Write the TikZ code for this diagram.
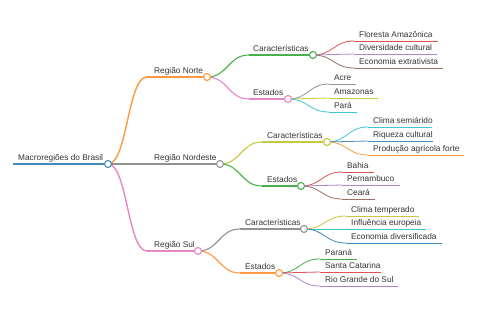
\documentclass[tikz,border=0pt]{standalone}
\usepackage{fontspec}
\newfontfamily\mmfont{Liberation Sans}
\usetikzlibrary{calc}
\definecolor{bBlue}{HTML}{1F77B4}
\definecolor{bOrange}{HTML}{FF7F0E}
\definecolor{bGreen}{HTML}{2CA02C}
\definecolor{bRed}{HTML}{D62728}
\definecolor{bPurple}{HTML}{9467BD}
\definecolor{bBrown}{HTML}{8C564B}
\definecolor{bPink}{HTML}{E377C2}
\definecolor{bGray}{HTML}{7F7F7F}
\definecolor{bOlive}{HTML}{BCBD22}
\definecolor{bCyan}{HTML}{17BECF}
\colorlet{cBlue}{bBlue!85!white}
\colorlet{cOrange}{bOrange!80!white}
\colorlet{cGreen}{bGreen!85!white}
\colorlet{cRed}{bRed!80!white}
\colorlet{cPurple}{bPurple!80!white}
\colorlet{cBrown}{bBrown!85!white}
\colorlet{cPink}{bPink!90!white}
\colorlet{cGray}{bGray!85!white}
\colorlet{cOlive}{bOlive!85!white}
\colorlet{cCyan}{bCyan!85!white}
\definecolor{txt}{HTML}{333333}
\newcommand\mmlink[3]{\draw[#1] let \p1=(#2), \p2=(#3) in (\p1) .. controls ({0.5*\x1+0.5*\x2},\y1) and ({0.5*\x1+0.5*\x2},\y2) .. (\p2);}
\tikzset{
  lbl/.style={anchor=base west, inner sep=0pt, font={\mmfont\fontsize{8.3}{10}\selectfont}, text=txt},
  dot/.style={circle, draw=#1, fill=white, minimum size=7pt, inner sep=0pt, line width=1.1pt},
  w0/.style={line width=1.8pt},
  w1/.style={line width=1.4pt},
  w2/.style={line width=1.1pt},
  w3/.style={line width=0.8pt},
}
\begin{document}
\begin{tikzpicture}[x=1pt,y=-1pt]
\useasboundingbox (0,0) rectangle (480,320);
% coordinates: L = line start, C = circle
\coordinate (rootL) at (13,164);  \coordinate (root) at (108,164);
\coordinate (noL) at (147,77);    \coordinate (no) at (207,77);
\coordinate (neL) at (147,164);   \coordinate (ne) at (220,164);
\coordinate (suL) at (147,251);   \coordinate (su) at (198,251);
\coordinate (nocL) at (249,55);   \coordinate (noc) at (313,55);
\coordinate (noeL) at (249,99);   \coordinate (noe) at (288,99);
\coordinate (necL) at (262,142);  \coordinate (nec) at (327,142);
\coordinate (neeL) at (262,186);  \coordinate (nee) at (301,186);
\coordinate (sucL) at (240,229);  \coordinate (suc) at (304,229);
\coordinate (sueL) at (240,273);  \coordinate (sue) at (279,273);
% leaves
\coordinate (a1L) at (354,41);  \coordinate (a1R) at (438,41);
\coordinate (a2L) at (354,54);  \coordinate (a2R) at (437,54);
\coordinate (a3L) at (354,68);  \coordinate (a3R) at (443,68);
\coordinate (b1L) at (329,84);  \coordinate (b1R) at (356,84);
\coordinate (b2L) at (329,98);  \coordinate (b2R) at (378,98);
\coordinate (b3L) at (329,112); \coordinate (b3R) at (357,112);
\coordinate (c1L) at (368,127); \coordinate (c1R) at (432,127);
\coordinate (c2L) at (368,141); \coordinate (c2R) at (433,141);
\coordinate (c3L) at (368,155); \coordinate (c3R) at (464,155);
\coordinate (d1L) at (342,172); \coordinate (d1R) at (374,172);
\coordinate (d2L) at (342,185); \coordinate (d2R) at (400,185);
\coordinate (d3L) at (342,199); \coordinate (d3R) at (375,199);
\coordinate (e1L) at (346,216); \coordinate (e1R) at (419,216);
\coordinate (e2L) at (346,229); \coordinate (e2R) at (426,229);
\coordinate (e3L) at (346,243); \coordinate (e3R) at (442,243);
\coordinate (f1L) at (320,259); \coordinate (f1R) at (357,259);
\coordinate (f2L) at (320,272); \coordinate (f2R) at (381,272);
\coordinate (f3L) at (320,286); \coordinate (f3R) at (398,286);
% underlines
\draw[cBlue,w0] (rootL) -- (root);
\draw[cOrange,w1] (noL) -- (no);
\draw[cGray,w1] (neL) -- (ne);
\draw[cPink,w1] (suL) -- (su);
\draw[cGreen,w2] (nocL) -- (noc);
\draw[cPink,w2] (noeL) -- (noe);
\draw[cOlive,w2] (necL) -- (nec);
\draw[cGreen,w2] (neeL) -- (nee);
\draw[cGray,w2] (sucL) -- (suc);
\draw[cOrange,w2] (sueL) -- (sue);
\draw[cRed,w3] (a1L) -- (a1R); \draw[cPurple,w3] (a2L) -- (a2R); \draw[cBrown,w3] (a3L) -- (a3R);
\draw[cGray,w3] (b1L) -- (b1R); \draw[cOlive,w3] (b2L) -- (b2R); \draw[cCyan,w3] (b3L) -- (b3R);
\draw[cCyan,w3] (c1L) -- (c1R); \draw[cBlue,w3] (c2L) -- (c2R); \draw[cOrange,w3] (c3L) -- (c3R);
\draw[cRed,w3] (d1L) -- (d1R); \draw[cPurple,w3] (d2L) -- (d2R); \draw[cBrown,w3] (d3L) -- (d3R);
\draw[cOlive,w3] (e1L) -- (e1R); \draw[cCyan,w3] (e2L) -- (e2R); \draw[cBlue,w3] (e3L) -- (e3R);
\draw[cGreen,w3] (f1L) -- (f1R); \draw[cRed,w3] (f2L) -- (f2R); \draw[cPurple,w3] (f3L) -- (f3R);
% links
\mmlink{cOrange,w1}{root}{noL}
\mmlink{cGray,w1}{root}{neL}
\mmlink{cPink,w1}{root}{suL}
\mmlink{cGreen,w2}{no}{nocL}
\mmlink{cPink,w2}{no}{noeL}
\mmlink{cOlive,w2}{ne}{necL}
\mmlink{cGreen,w2}{ne}{neeL}
\mmlink{cGray,w2}{su}{sucL}
\mmlink{cOrange,w2}{su}{sueL}
\mmlink{cRed,w3}{noc}{a1L} \mmlink{cPurple,w3}{noc}{a2L} \mmlink{cBrown,w3}{noc}{a3L}
\mmlink{cGray,w3}{noe}{b1L} \mmlink{cOlive,w3}{noe}{b2L} \mmlink{cCyan,w3}{noe}{b3L}
\mmlink{cCyan,w3}{nec}{c1L} \mmlink{cBlue,w3}{nec}{c2L} \mmlink{cOrange,w3}{nec}{c3L}
\mmlink{cRed,w3}{nee}{d1L} \mmlink{cPurple,w3}{nee}{d2L} \mmlink{cBrown,w3}{nee}{d3L}
\mmlink{cOlive,w3}{suc}{e1L} \mmlink{cCyan,w3}{suc}{e2L} \mmlink{cBlue,w3}{suc}{e3L}
\mmlink{cGreen,w3}{sue}{f1L} \mmlink{cRed,w3}{sue}{f2L} \mmlink{cPurple,w3}{sue}{f3L}
% circles
\node[dot=cBlue] (rootD) at (root) {};
\node[dot=cOrange] (noD) at (no) {};
\node[dot=cGray] (neD) at (ne) {};
\node[dot=cPink] (suD) at (su) {};
\node[dot=cGreen] (nocD) at (noc) {};
\node[dot=cPink] (noeD) at (noe) {};
\node[dot=cOlive] (necD) at (nec) {};
\node[dot=cGreen] (neeD) at (nee) {};
\node[dot=cGray] (sucD) at (suc) {};
\node[dot=cOrange] (sueD) at (sue) {};
% labels
\node[lbl] (tRoot) at (18,160.5) {Macroregiões do Brasil};
\node[lbl] (tNo) at (154,73.5) {Região Norte};
\node[lbl] (tNe) at (154,160.5) {Região Nordeste};
\node[lbl] (tSu) at (154,247.5) {Região Sul};
\node[lbl] (tNoc) at (253,51.5) {Características};
\node[lbl] (tNoe) at (253,95.5) {Estados};
\node[lbl] (tNec) at (267,138.5) {Características};
\node[lbl] (tNee) at (267,182.5) {Estados};
\node[lbl] (tSuc) at (245,225.5) {Características};
\node[lbl] (tSue) at (245,269.5) {Estados};
\node[lbl] (ta1) at (359,37.5) {Floresta Amazônica};
\node[lbl] (ta2) at (359,50.5) {Diversidade cultural};
\node[lbl] (ta3) at (359,64.5) {Economia extrativista};
\node[lbl] (tb1) at (334,80.5) {Acre};
\node[lbl] (tb2) at (334,94.5) {Amazonas};
\node[lbl] (tb3) at (334,108.5) {Pará};
\node[lbl] (tc1) at (373,123.5) {Clima semiárido};
\node[lbl] (tc2) at (373,137.5) {Riqueza cultural};
\node[lbl] (tc3) at (373,151.5) {Produção agrícola forte};
\node[lbl] (td1) at (347,168.5) {Bahia};
\node[lbl] (td2) at (347,181.5) {Pernambuco};
\node[lbl] (td3) at (347,195.5) {Ceará};
\node[lbl] (te1) at (351,212.5) {Clima temperado};
\node[lbl] (te2) at (351,225.5) {Influência europeia};
\node[lbl] (te3) at (351,239.5) {Economia diversificada};
\node[lbl] (tf1) at (325,255.5) {Paraná};
\node[lbl] (tf2) at (325,268.5) {Santa Catarina};
\node[lbl] (tf3) at (325,282.5) {Rio Grande do Sul};
\end{tikzpicture}
\end{document}
